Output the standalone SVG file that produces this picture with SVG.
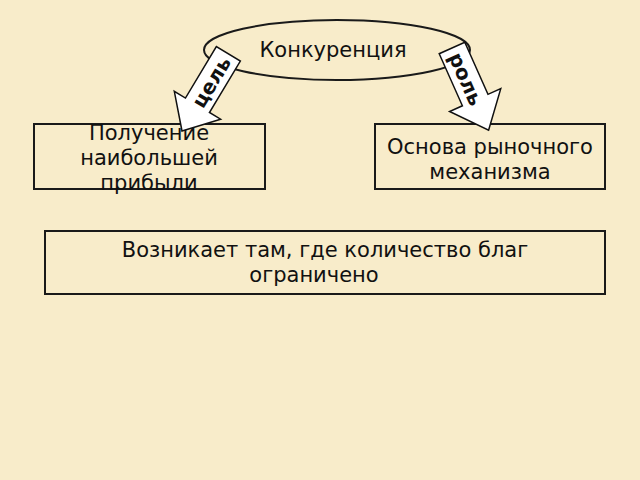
<svg xmlns="http://www.w3.org/2000/svg" width="640" height="480" viewBox="0 0 640 480">
<style>
.b{fill:none;stroke:#1a1a1a;stroke-width:2}
.t{font-family:"DejaVu Sans",sans-serif;font-size:21px;fill:#111;text-anchor:middle}
.a{fill:#fff;stroke:#111;stroke-width:1.5}
.at{font-family:"DejaVu Sans",sans-serif;font-size:20px;font-weight:bold;fill:#111;text-anchor:middle}
</style>
<rect width="640" height="480" fill="#f8ecca"/>
<g id="n-konk"><ellipse cx="337" cy="50" rx="133" ry="30" class="b" fill="none"/><text x="333" y="57" class="t">Конкуренция</text></g>
<g id="n-pol"><rect x="34" y="124" width="231" height="65" class="b"/><text class="t"><tspan x="149" y="140">Получение</tspan><tspan x="149" y="165">наибольшей</tspan><tspan x="149" y="190">прибыли</tspan></text></g>
<g id="n-osn"><rect x="375" y="124" width="230" height="65" class="b"/><text class="t"><tspan x="490" y="154">Основа рыночного</tspan><tspan x="490" y="179">механизма</tspan></text></g>
<g id="n-voz"><rect x="45" y="231" width="560" height="63" class="b"/><text class="t"><tspan x="325" y="257">Возникает там, где количество благ</tspan><tspan x="314" y="282">ограничено</tspan></text></g>
<g id="connectors">
<g transform="translate(182,131) rotate(-59)"><polygon class="a" points="0,0 30,-27 30,-14 90,-14 90,14 30,14 30,27"/><text x="57" y="7" class="at">цель</text></g>
<g transform="translate(452,48) rotate(66)"><polygon class="a" points="0,-14 57,-14 57,-28 90,0 57,28 57,14 0,14"/><text x="34" y="7" class="at">роль</text></g>
</g>
</svg>
